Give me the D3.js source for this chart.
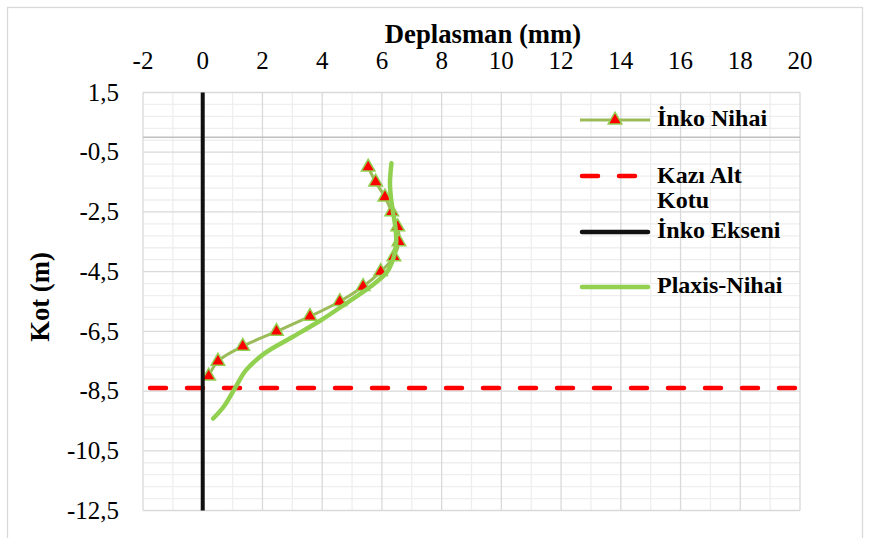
<html>
<head>
<meta charset="utf-8">
<style>
  body { margin: 0; background: #fff; }
  text { font-family: "Liberation Serif", "Times New Roman", serif; fill: #000; }
  .grid-major { stroke: #d9d9d9; stroke-width: 1.3; }
  .grid-minor { stroke: #eeeeee; stroke-width: 1.3; }
</style>
<script src="https://d3js.org/d3.v7.min.js"></script>
</head>
<body>
<svg id="chart" width="869" height="538"></svg>
<script>
// eksen tikleri
var xTicks = [-2, 0, 2, 4, 6, 8, 10, 12, 14, 16, 18, 20];
var yTicks = [1.5, -0.5, -2.5, -4.5, -6.5, -8.5, -10.5, -12.5];

// İnko Nihai (kot m, deplasman mm)
var inkoKot = [-1.0, -1.5, -2.0, -2.5, -3.0, -3.5, -4.0, -4.5, -5.0, -5.5, -6.0, -6.5, -7.0, -7.5, -8.0];
var inkoDepl = [5.54, 5.79, 6.10, 6.33, 6.53, 6.57, 6.40, 5.96, 5.37, 4.59, 3.59, 2.47, 1.34, 0.51, 0.20];

// Plaxis-Nihai
var plaxisKot = [-0.87, -1.5, -2.0, -2.5, -3.0, -3.5, -4.0, -4.5, -5.0, -5.56, -6.12, -6.68, -7.23, -7.8, -8.4, -9.0, -9.42];
var plaxisDepl = [6.32, 6.27, 6.30, 6.37, 6.45, 6.48, 6.40, 6.18, 5.62, 4.81, 3.97, 3.02, 2.08, 1.45, 1.08, 0.72, 0.35];

// kazı alt kotu ve inko ekseni
var kaziKot = -8.4;
var kaziDepl = [-2, 20];
var eksenDepl = 0;
var eksenKot = [1.5, -12.5];

var legendNames = ["İnko Nihai", "Kazı Alt|Kotu", "İnko Ekseni", "Plaxis-Nihai"];

var svg = d3.select("#chart");
var x = d3.scaleLinear().domain([-2, 20]).range([143, 800]);
var y = d3.scaleLinear().domain([1.5, -12.5]).range([92.5, 510.5]);
var fmt = function(v) { return String(v).replace(".", ","); };

// dış çerçeve
svg.append("rect").attr("x", 7.5).attr("y", 7.5).attr("width", 855).attr("height", 545)
   .attr("fill", "none").attr("stroke", "#d9d9d9").attr("stroke-width", 1.3);

var grid = svg.append("g");
// ara çizgiler
var xMinor = d3.range(-1, 20, 2);
var yMinor = d3.range(0, 35).map(function(i) { return +(1.5 - i * 0.4).toFixed(2); })
               .filter(function(v) { return Math.abs((1.5 - v) % 2) > 0.01; });
grid.selectAll("line.vmin").data(xMinor).enter().append("line").attr("class", "grid-minor")
    .attr("x1", function(d) { return x(d); }).attr("x2", function(d) { return x(d); })
    .attr("y1", y(1.5)).attr("y2", y(-12.5));
grid.selectAll("line.hmin").data(yMinor).enter().append("line").attr("class", "grid-minor")
    .attr("y1", function(d) { return y(d); }).attr("y2", function(d) { return y(d); })
    .attr("x1", x(-2)).attr("x2", x(20));
// ana çizgiler
grid.selectAll("line.vmaj").data(xTicks).enter().append("line").attr("class", "grid-major")
    .attr("x1", function(d) { return x(d); }).attr("x2", function(d) { return x(d); })
    .attr("y1", y(1.5)).attr("y2", y(-12.5));
grid.selectAll("line.hmaj").data(yTicks).enter().append("line").attr("class", "grid-major")
    .attr("y1", function(d) { return y(d); }).attr("y2", function(d) { return y(d); })
    .attr("x1", x(-2)).attr("x2", x(20));
// yatay eksen (kot 0)
grid.append("line").attr("x1", x(-2)).attr("x2", x(20)).attr("y1", y(0)).attr("y2", y(0))
    .attr("stroke", "#bfbfbf").attr("stroke-width", 1.5);

// tik etiketleri
svg.append("g").selectAll("text").data(xTicks).enter().append("text")
   .attr("x", function(d) { return x(d); }).attr("y", 69)
   .attr("text-anchor", "middle").style("font-size", "25px").text(fmt);
svg.append("g").selectAll("text").data(yTicks).enter().append("text")
   .attr("x", 119).attr("y", function(d) { return y(d); }).attr("dy", "0.33em")
   .attr("text-anchor", "end").style("font-size", "25px").text(fmt);

// eksen başlıkları
svg.append("text").attr("x", 483).attr("y", 43).attr("text-anchor", "middle")
   .style("font-size", "26.7px").style("font-weight", "bold").text("Deplasman (mm)");
svg.append("text").attr("transform", "translate(49,297) rotate(-90)").attr("text-anchor", "middle")
   .style("font-size", "26.7px").style("font-weight", "bold").text("Kot (m)");

var line = d3.line().curve(d3.curveCatmullRom.alpha(0.5))
             .x(function(d) { return x(d[0]); }).y(function(d) { return y(d[1]); });
var tri = d3.symbol().type(d3.symbolTriangle).size(80);

// İnko Nihai
var inko = inkoDepl.map(function(v, i) { return [v, inkoKot[i]]; });
svg.append("path").attr("d", line(inko)).attr("fill", "none")
   .attr("stroke", "#9bbb59").attr("stroke-width", 3);
svg.append("g").selectAll("path").data(inko).enter().append("path")
   .attr("d", tri).attr("transform", function(d) { return "translate(" + x(d[0]) + "," + y(d[1]) + ")"; })
   .attr("fill", "#ff0000").attr("stroke", "#92d050").attr("stroke-width", 1.5);

// Kazı Alt Kotu
svg.append("line").attr("x1", x(kaziDepl[0])).attr("x2", x(kaziDepl[1]))
   .attr("y1", y(kaziKot)).attr("y2", y(kaziKot))
   .attr("stroke", "#ff0000").attr("stroke-width", 4.5).attr("stroke-linecap", "round")
   .attr("stroke-dasharray", "16,21").attr("stroke-dashoffset", 30);

// İnko Ekseni
svg.append("line").attr("x1", x(eksenDepl)).attr("x2", x(eksenDepl))
   .attr("y1", y(eksenKot[0])).attr("y2", y(eksenKot[1]))
   .attr("stroke", "#111").attr("stroke-width", 4);

// Plaxis-Nihai
var plaxis = plaxisDepl.map(function(v, i) { return [v, plaxisKot[i]]; });
svg.append("path").attr("d", line(plaxis)).attr("fill", "none")
   .attr("stroke", "#92d050").attr("stroke-width", 4.5).attr("stroke-linecap", "round");

// lejant
var lg = svg.append("g");
var lgY = [120, 176, 232, 287];
var lgText = [126, 183, 238, 293];
lg.append("line").attr("x1", 580).attr("x2", 650).attr("y1", lgY[0]).attr("y2", lgY[0])
  .attr("stroke", "#9bbb59").attr("stroke-width", 3);
lg.append("path").attr("d", tri).attr("transform", "translate(615," + lgY[0] + ")")
  .attr("fill", "#ff0000").attr("stroke", "#92d050").attr("stroke-width", 1.5);
lg.append("line").attr("x1", 582).attr("x2", 648).attr("y1", lgY[1]).attr("y2", lgY[1])
  .attr("stroke", "#ff0000").attr("stroke-width", 4.5).attr("stroke-linecap", "round")
  .attr("stroke-dasharray", "16,21");
lg.append("line").attr("x1", 582).attr("x2", 648).attr("y1", lgY[2]).attr("y2", lgY[2])
  .attr("stroke", "#111").attr("stroke-width", 4.5).attr("stroke-linecap", "round");
lg.append("line").attr("x1", 582).attr("x2", 648).attr("y1", lgY[3]).attr("y2", lgY[3])
  .attr("stroke", "#92d050").attr("stroke-width", 4.5).attr("stroke-linecap", "round");
legendNames.forEach(function(n, i) {
  var t = lg.append("text").attr("x", 657).attr("y", lgText[i])
            .style("font-size", "24px").style("font-weight", "bold");
  n.split("|").forEach(function(part, j) {
    t.append("tspan").attr("x", 657).attr("dy", j === 0 ? 0 : 25).text(part);
  });
});
</script>
</body>
</html>
